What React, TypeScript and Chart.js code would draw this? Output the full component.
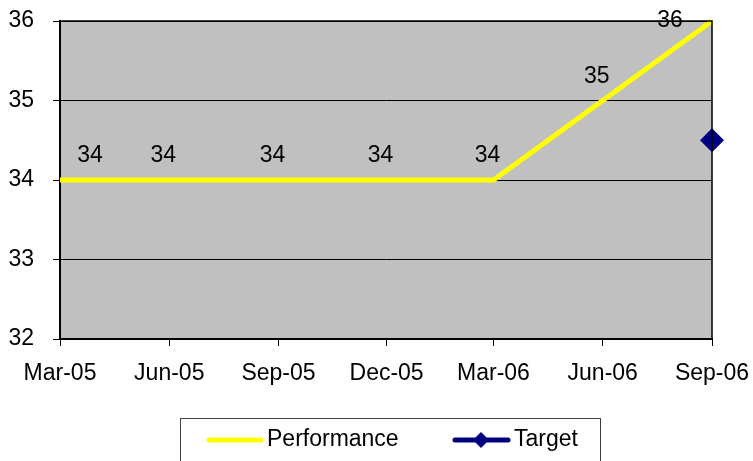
import React, { useEffect, useRef } from "react";
import { Chart, registerables } from "chart.js";

Chart.register(...registerables);

const dates = ["2005-03-01", "2005-06-01", "2005-09-01", "2005-12-01", "2006-03-01", "2006-06-01", "2006-09-01"];
const tickLabels = ["Mar-05", "Jun-05", "Sep-05", "Dec-05", "Mar-06", "Jun-06", "Sep-06"];
const performance = [34, 34, 34, 34, 34, 35, 36];
const target: (number | null)[] = [null, null, null, null, null, null, 34.5];
const seriesNames = ["Performance", "Target"];

const FONT = "'Liberation Sans', Arial, sans-serif";
const FS = 23;

const dayOf = (s: string) => Math.round((Date.parse(s) - Date.parse(dates[0])) / 86400000);
const days = dates.map(dayOf);

const bgPlugin = {
  id: "bgPlugin",
  beforeDraw(chart: any) {
    const { ctx, chartArea: a } = chart;
    ctx.save();
    ctx.fillStyle = "#C0C0C0";
    ctx.fillRect(a.left, a.top, a.right - a.left, a.bottom - a.top);
    ctx.restore();
  },
  afterDraw(chart: any) {
    const { ctx, chartArea: a } = chart;
    ctx.save();
    ctx.strokeStyle = "#000";
    ctx.lineWidth = 1.5;
    ctx.beginPath();
    ctx.moveTo(a.left, a.top);
    ctx.lineTo(a.right, a.top);
    ctx.lineTo(a.right, a.bottom);
    ctx.stroke();
    ctx.restore();
  },
};

const labelPlugin = {
  id: "labelPlugin",
  afterDatasetsDraw(chart: any) {
    const { ctx, chartArea: a } = chart;
    const meta = chart.getDatasetMeta(0);
    ctx.save();
    ctx.font = `${FS}px ${FONT}`;
    ctx.fillStyle = "#000";
    ctx.textAlign = "center";
    ctx.textBaseline = "middle";
    meta.data.forEach((pt: any, i: number) => {
      let x = pt.x - 6;
      x = Math.min(Math.max(x, a.left + 30), a.right - 42);
      const y = Math.max(pt.y - 24, a.top);
      ctx.fillText(String(performance[i]), x, y);
    });
    ctx.restore();
  },
};

const legendPlugin = {
  id: "legendPlugin",
  afterDraw(chart: any) {
    const { ctx } = chart;
    ctx.save();
    ctx.strokeStyle = "#404040";
    ctx.lineWidth = 1;
    ctx.strokeRect(180.5, 418.5, 420, 60);
    const y = 440;
    const ds = chart.data.datasets;
    ctx.lineCap = "round";
    ctx.strokeStyle = ds[0].borderColor;
    ctx.lineWidth = 5;
    ctx.beginPath();
    ctx.moveTo(209, y);
    ctx.lineTo(261, y);
    ctx.stroke();
    ctx.strokeStyle = ds[1].borderColor;
    ctx.beginPath();
    ctx.moveTo(455, y);
    ctx.lineTo(508, y);
    ctx.stroke();
    ctx.fillStyle = ds[1].backgroundColor;
    ctx.beginPath();
    ctx.moveTo(481, y - 8);
    ctx.lineTo(489, y);
    ctx.lineTo(481, y + 8);
    ctx.lineTo(473, y);
    ctx.closePath();
    ctx.fill();
    ctx.font = `${FS}px ${FONT}`;
    ctx.fillStyle = "#000";
    ctx.textAlign = "left";
    ctx.textBaseline = "middle";
    ctx.fillText(seriesNames[0], 267, y);
    ctx.fillText(seriesNames[1], 514, y);
    ctx.restore();
  },
};

export default function App() {
  const ref = useRef<HTMLCanvasElement>(null);
  useEffect(() => {
    if (!ref.current) return;
    const chart = new Chart(ref.current, {
      type: "line",
      data: {
        datasets: [
          {
            label: seriesNames[0],
            data: days.map((d, i) => ({ x: d, y: performance[i] })),
            borderColor: "#FFFF00",
            backgroundColor: "#FFFF00",
            borderWidth: 5,
            pointRadius: 0,
            tension: 0,
            clip: false as any,
          },
          {
            label: seriesNames[1],
            data: days.map((d, i) => ({ x: d, y: target[i] })) as any,
            borderColor: "#000080",
            backgroundColor: "#000080",
            borderWidth: 0,
            showLine: false,
            pointStyle: "rectRot",
            pointRadius: 12,
            pointBorderWidth: 0,
            clip: false as any,
          },
        ],
      },
      options: {
        animation: false,
        responsive: false,
        events: [],
        layout: { padding: { left: 0, top: 21, right: 41, bottom: 0 } },
        plugins: { legend: { display: false }, tooltip: { enabled: false } },
        scales: {
          x: {
            type: "linear",
            min: days[0],
            max: days[days.length - 1],
            afterBuildTicks: (scale: any) => {
              scale.ticks = days.map((v) => ({ value: v }));
            },
            afterFit: (scale: any) => {
              scale.height = 122;
              scale.paddingLeft = 0;
              scale.paddingRight = 0;
            },
            ticks: {
              callback: (_v: any, i: number) => tickLabels[i],
              autoSkip: false,
              maxRotation: 0,
              padding: 14,
              color: "#000",
              font: { family: FONT, size: FS },
            },
            grid: { drawOnChartArea: false, tickLength: 7, color: "#000", lineWidth: 1 },
            border: { display: true, color: "#000", width: 2 },
          },
          y: {
            min: 32,
            max: 36,
            afterFit: (scale: any) => {
              scale.width = 60;
              scale.paddingTop = 0;
              scale.paddingBottom = 0;
            },
            ticks: {
              stepSize: 1,
              padding: 19,
              color: "#000",
              font: { family: FONT, size: FS },
            },
            grid: { color: "#000", lineWidth: 1, tickLength: 7 },
            border: { display: true, color: "#000", width: 2 },
          },
        },
      } as any,
      plugins: [bgPlugin, labelPlugin, legendPlugin],
    });
    return () => chart.destroy();
  }, []);
  return (
    <div style={{ position: "absolute", left: 0, top: 0, width: 753, height: 461, background: "#fff" }}>
      <canvas ref={ref} width={753} height={461} />
    </div>
  );
}
